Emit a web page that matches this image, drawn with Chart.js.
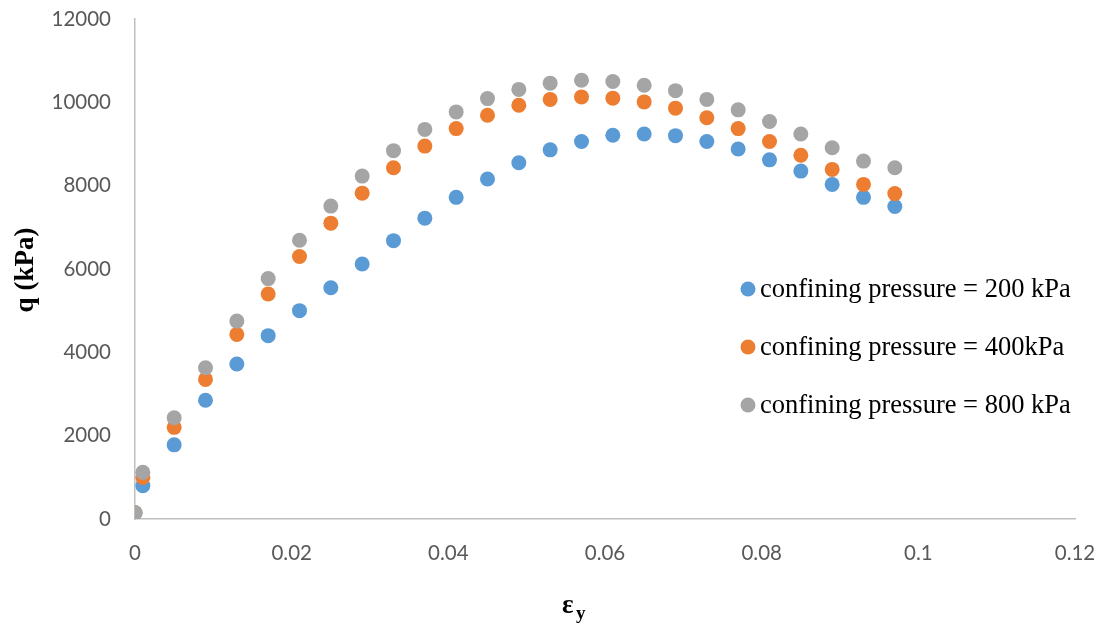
<!DOCTYPE html>
<html>
<head>
<meta charset="utf-8">
<script src="https://cdn.jsdelivr.net/npm/chart.js@4/dist/chart.umd.min.js"></script>
<style>
    html, body { margin: 0; padding: 0; background: #fff; }
    #wrap { width: 1105px; height: 630px; }
</style>
</head>
<body>
<div id="wrap"><canvas id="strainChart" width="1105" height="630"></canvas></div>
<script>
/* Deviator stress vs axial strain, three confining pressures */

const strain = [0, 0.001, 0.005, 0.009, 0.013, 0.017, 0.021, 0.025, 0.029, 0.033,
    0.037, 0.041, 0.045, 0.049, 0.053, 0.057, 0.061, 0.065, 0.069, 0.073,
    0.077, 0.081, 0.085, 0.089, 0.093, 0.097];

const q200 = [150, 800, 1780, 2850, 3720, 4400, 5000, 5550, 6120, 6680,
    7220, 7720, 8160, 8550, 8860, 9060, 9210, 9240, 9200, 9060,
    8880, 8620, 8350, 8030, 7720, 7500];

const q400 = [150, 1000, 2200, 3350, 4430, 5400, 6300, 7100, 7820, 8430,
    8950, 9370, 9690, 9930, 10070, 10130, 10100, 10010, 9860, 9630,
    9370, 9060, 8730, 8390, 8030, 7810];

const q800 = [150, 1120, 2430, 3630, 4750, 5770, 6690, 7510, 8230, 8840,
    9350, 9770, 10090, 10310, 10460, 10530, 10500, 10410, 10280, 10070,
    9820, 9540, 9240, 8910, 8590, 8430];

const seriesLabels = [
    'confining pressure = 200 kPa',
    'confining pressure = 400kPa',
    'confining pressure = 800 kPa',
];

const xTicks = [0, 0.02, 0.04, 0.06, 0.08, 0.1, 0.12];
const yTicks = [0, 2000, 4000, 6000, 8000, 10000, 12000];

const colors = ['#5B9BD5', '#ED7D31', '#A5A5A5'];

function toPoints(ys) {
    return strain.map(function (x, i) { return { x: x, y: ys[i] }; });
}

// legend and axis titles are drawn by hand (subscript on the x title)
const annotations = {
    id: 'annotations',
    afterDraw: function (chart) {
        const ctx = chart.ctx;
        ctx.save();

        chart.data.datasets.forEach(function (ds, i) {
            const y = 289 + i * 58;
            ctx.beginPath();
            ctx.arc(748, y, 7.5, 0, Math.PI * 2);
            ctx.fillStyle = ds.backgroundColor;
            ctx.fill();
            ctx.fillStyle = '#000';
            ctx.font = '26.5px "Liberation Serif"';
            ctx.textBaseline = 'middle';
            ctx.textAlign = 'left';
            ctx.fillText(ds.label, 760, y + 1);
        });

        // y title
        ctx.translate(26, 270);
        ctx.rotate(-Math.PI / 2);
        ctx.font = 'bold 27px "Liberation Serif"';
        ctx.textAlign = 'center';
        ctx.textBaseline = 'middle';
        ctx.fillStyle = '#000';
        ctx.fillText('q (kPa)', 0, 0);
        ctx.setTransform(1, 0, 0, 1, 0, 0);

        // x title: epsilon with subscript y
        ctx.textAlign = 'left';
        ctx.textBaseline = 'alphabetic';
        ctx.font = 'bold 27px "Liberation Serif"';
        ctx.fillText('\u03b5', 562, 613);
        ctx.font = 'bold 19px "Liberation Serif"';
        ctx.fillText('y', 576, 619);

        ctx.restore();
    },
};

new Chart(document.getElementById('strainChart'), {
    type: 'scatter',
    data: {
        datasets: [
            { label: seriesLabels[0], data: toPoints(q200), backgroundColor: colors[0], order: 3 },
            { label: seriesLabels[1], data: toPoints(q400), backgroundColor: colors[1], order: 2 },
            { label: seriesLabels[2], data: toPoints(q800), backgroundColor: colors[2], order: 1 },
        ],
    },
    options: {
        responsive: false,
        animation: false,
        elements: {
            point: { radius: 7.5, borderWidth: 0, hoverRadius: 7.5 },
        },
        layout: { padding: { top: 19, right: 30, left: 0, bottom: 0 } },
        plugins: {
            legend: { display: false },
            tooltip: { enabled: false },
        },
        scales: {
            x: {
                type: 'linear',
                min: 0,
                max: 0.12,
                afterBuildTicks: function (axis) {
                    axis.ticks = xTicks.map(function (v) { return { value: v }; });
                },
                afterFit: function (axis) {
                    axis.height = 111;
                    axis.paddingLeft = 0;
                    axis.paddingRight = 0;
                },
                grid: { display: false },
                border: { display: true, color: '#BFBFBF', width: 1.5 },
                ticks: {
                    color: '#595959',
                    font: { family: 'Lato', size: 20.5 },
                    padding: 14,
                    maxRotation: 0,
                    callback: function (v) { return String(+v.toFixed(2)); },
                },
            },
            y: {
                min: 0,
                max: 12000,
                afterBuildTicks: function (axis) {
                    axis.ticks = yTicks.map(function (v) { return { value: v }; });
                },
                afterFit: function (axis) {
                    axis.width = 135;
                    axis.paddingTop = 0;
                    axis.paddingBottom = 0;
                },
                grid: { display: false },
                border: { display: true, color: '#BFBFBF', width: 1.5 },
                ticks: {
                    color: '#595959',
                    font: { family: 'Lato', size: 20.5 },
                    padding: 16,
                    callback: function (v) { return String(v); },
                },
            },
        },
    },
    plugins: [annotations],
});
</script>
</body>
</html>
